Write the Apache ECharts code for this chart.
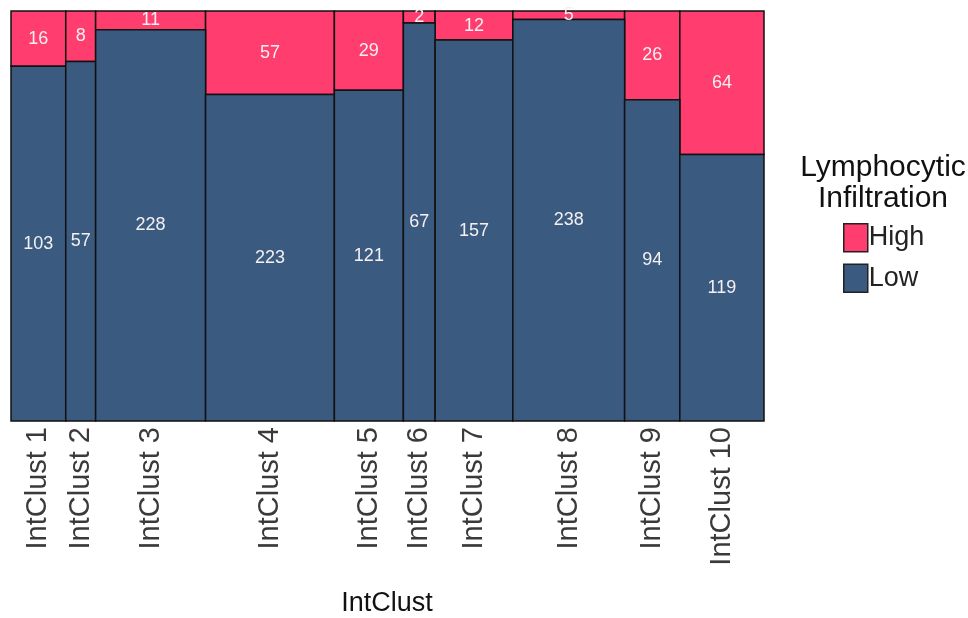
<!DOCTYPE html>
<html>
<head>
<meta charset="utf-8">
<script src="https://cdn.jsdelivr.net/npm/echarts@6/dist/echarts.min.js"></script>
<style>
  html, body { margin: 0; padding: 0; background: #fff; }
  #chart { width: 968px; height: 618px; }
</style>
</head>
<body>
<div id="chart"></div>
<script>
const categories = ['IntClust 1', 'IntClust 2', 'IntClust 3', 'IntClust 4', 'IntClust 5',
                    'IntClust 6', 'IntClust 7', 'IntClust 8', 'IntClust 9', 'IntClust 10'];
const highCounts = [16, 8, 11, 57, 29, 2, 12, 5, 26, 64];
const lowCounts = [103, 57, 228, 223, 121, 67, 157, 238, 94, 119];

const colorHigh = '#ff3d6e';
const colorLow = '#3a5a80';

// mosaic: width = cluster total, height = share
let cum = 0;
const highData = [], lowData = [], centers = [];
categories.forEach((c, i) => {
    const tot = highCounts[i] + lowCounts[i];
    const lowFrac = lowCounts[i] / tot;
    lowData.push([cum, cum + tot, 0, lowFrac, lowCounts[i]]);
    highData.push([cum, cum + tot, lowFrac, 1, highCounts[i]]);
    centers.push(cum + tot / 2);
    cum += tot;
});
const total = cum;

function renderRect(params, api) {
    const p0 = api.coord([api.value(0), api.value(3)]);
    const p1 = api.coord([api.value(1), api.value(2)]);
    return {
        type: 'rect',
        shape: { x: p0[0], y: p0[1], width: p1[0] - p0[0], height: p1[1] - p0[1] },
        style: {
            fill: api.visual('color'),
            stroke: '#111',
            lineWidth: 1.5
        },
        textContent: {
            style: {
                text: String(api.value(4)),
                fill: '#f4f0f2',
                fontSize: 18,
                fontFamily: 'Liberation Sans'
            }
        },
        textConfig: { position: 'inside' }
    };
}

const chart = echarts.init(document.getElementById('chart'));
chart.setOption({
    animation: false,
    textStyle: { fontFamily: 'Liberation Sans' },
    title: {
        text: 'Lymphocytic\nInfiltration',
        left: 878,
        top: 147,
        textAlign: 'center',
        textStyle: { fontSize: 30, fontWeight: 'normal', color: '#111', lineHeight: 31 }
    },
    graphic: [{
        type: 'text',
        x: 387,
        y: 604,
        style: {
            text: 'IntClust',
            fontSize: 27,
            fontFamily: 'Liberation Sans',
            fill: '#111',
            align: 'center',
            verticalAlign: 'middle'
        }
    }],
    legend: {
        orient: 'vertical',
        left: 838,
        top: 218,
        icon: 'rect',
        itemWidth: 24,
        itemHeight: 28,
        itemGap: 11,
        data: ['High', 'Low'],
        textStyle: { fontSize: 27, color: '#222', padding: [0, 0, 0, -4] },
        itemStyle: { borderColor: '#222', borderWidth: 1.5 }
    },
    grid: { left: 11, top: 11, width: 753, height: 410, outerBoundsMode: 'none' },
    xAxis: {
        type: 'value',
        min: 0,
        max: total,
        axisLine: { show: false },
        axisTick: { show: false },
        splitLine: { show: false },
        axisLabel: {
            customValues: centers,
            rotate: 90,
            fontSize: 29,
            color: '#3a3a3a',
            margin: 6,
            formatter: v => {
                const i = centers.findIndex(c => Math.abs(c - v) < 1e-6);
                return i >= 0 ? categories[i] : '';
            }
        }
    },
    yAxis: {
        type: 'value',
        min: 0,
        max: 1,
        axisLine: { show: false },
        axisTick: { show: false },
        axisLabel: { show: false },
        splitLine: { show: false }
    },
    series: [
        {
            name: 'High',
            type: 'custom',
            color: colorHigh,
            renderItem: renderRect,
            encode: { x: [0, 1], y: [2, 3] },
            data: highData
        },
        {
            name: 'Low',
            type: 'custom',
            color: colorLow,
            renderItem: renderRect,
            encode: { x: [0, 1], y: [2, 3] },
            data: lowData
        }
    ]
});
</script>
</body>
</html>
